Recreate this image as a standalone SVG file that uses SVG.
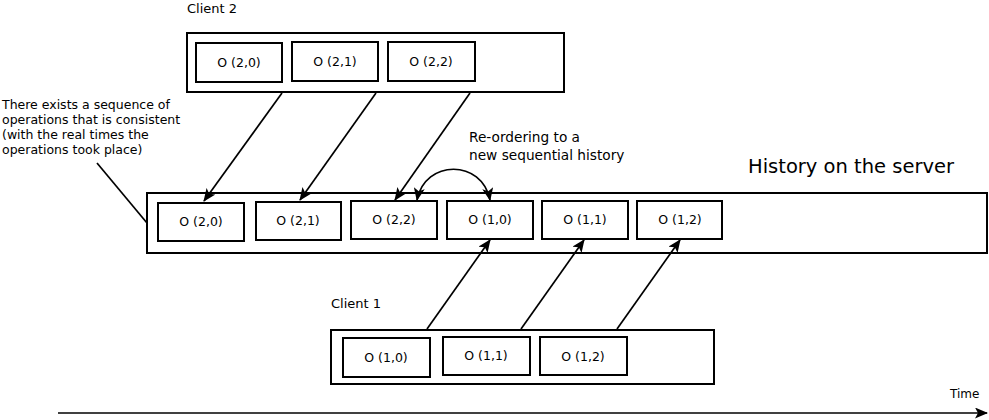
<svg xmlns="http://www.w3.org/2000/svg" width="989" height="420" viewBox="0 0 989 420">
<defs>
<marker id="ah" viewBox="0 0 13 11" refX="12" refY="5.5" markerWidth="13" markerHeight="11" markerUnits="userSpaceOnUse" orient="auto-start-reverse">
<path d="M0,0 L13,5.5 L0,11 L3,5.5 z" fill="#000"/>
</marker>
</defs>
<style>
.outer{fill:#fff;stroke:#000;stroke-width:2}
.op{fill:#fff;stroke:#000;stroke-width:2}
.lbl{font-family:"DejaVu Sans",sans-serif;font-size:12.5px;fill:#000;text-anchor:middle}
.txt{font-family:"DejaVu Sans",sans-serif;fill:#000}
.conn{fill:none;stroke:#000;stroke-width:1.7}
</style>
<rect width="989" height="420" fill="#fff"/>

<g id="client2">
<text class="txt" x="187" y="13" font-size="13">Client 2</text>
<rect class="outer" x="187" y="33" width="377" height="59"/>
<g id="c2-o20"><rect class="op" x="196" y="43" width="86" height="39"/><text class="lbl" x="239" y="67">O (2,0)</text></g>
<g id="c2-o21"><rect class="op" x="292" y="42" width="86" height="39"/><text class="lbl" x="335" y="66">O (2,1)</text></g>
<g id="c2-o22"><rect class="op" x="388" y="42" width="87" height="39"/><text class="lbl" x="431" y="66">O (2,2)</text></g>
</g>

<g id="server">
<text class="txt" x="748" y="173" font-size="19.5">History on the server</text>
<rect class="outer" x="147" y="193" width="840" height="60"/>
<g id="s-o20"><rect class="op" x="158" y="203" width="86" height="38"/><text class="lbl" x="201" y="226">O (2,0)</text></g>
<g id="s-o21"><rect class="op" x="256" y="202" width="85" height="38"/><text class="lbl" x="298" y="225">O (2,1)</text></g>
<g id="s-o22"><rect class="op" x="351" y="201" width="86" height="38"/><text class="lbl" x="394" y="224">O (2,2)</text></g>
<g id="s-o10"><rect class="op" x="447" y="201" width="86" height="38"/><text class="lbl" x="490" y="224">O (1,0)</text></g>
<g id="s-o11"><rect class="op" x="542" y="201" width="86" height="38"/><text class="lbl" x="585" y="224">O (1,1)</text></g>
<g id="s-o12"><rect class="op" x="637" y="201" width="85" height="38"/><text class="lbl" x="680" y="224">O (1,2)</text></g>
</g>

<g id="client1">
<text class="txt" x="331" y="308" font-size="13">Client 1</text>
<rect class="outer" x="331" y="330" width="383" height="54"/>
<g id="c1-o10"><rect class="op" x="343" y="338" width="87" height="39"/><text class="lbl" x="386" y="362">O (1,0)</text></g>
<g id="c1-o11"><rect class="op" x="443" y="337" width="87" height="38"/><text class="lbl" x="486" y="360">O (1,1)</text></g>
<g id="c1-o12"><rect class="op" x="540" y="337" width="87" height="38"/><text class="lbl" x="583" y="361">O (1,2)</text></g>
</g>

<g id="annotation">
<text class="txt" font-size="12.5"><tspan x="2" y="109">There exists a sequence of</tspan><tspan x="2" y="124">operations that is consistent</tspan><tspan x="2" y="139">(with the real times the</tspan><tspan x="2" y="154">operations took place)</tspan></text>
</g>

<g id="reorder-label">
<text class="txt" font-size="13.7"><tspan x="469" y="142">Re-ordering to a</tspan><tspan x="469" y="160">new sequential history</tspan></text>
</g>

<g id="time-label">
<text class="txt" x="950" y="398" font-size="12">Time</text>
</g>

<g id="connectors">
<line class="conn" x1="282" y1="93" x2="204" y2="201" marker-end="url(#ah)"/>
<line class="conn" x1="376" y1="93" x2="300" y2="200" marker-end="url(#ah)"/>
<line class="conn" x1="470" y1="93" x2="395" y2="200" marker-end="url(#ah)"/>
<path class="conn" d="M417,200 C425,159 482,159 490,200" marker-start="url(#ah)" marker-end="url(#ah)"/>
<line class="conn" x1="427" y1="329" x2="490" y2="240" marker-end="url(#ah)"/>
<line class="conn" x1="521" y1="329" x2="584" y2="240" marker-end="url(#ah)"/>
<line class="conn" x1="617" y1="329" x2="680" y2="240" marker-end="url(#ah)"/>
<line class="conn" x1="97" y1="163" x2="147" y2="223"/>
<line class="conn" x1="58" y1="413" x2="987" y2="413" stroke-width="2" marker-end="url(#ah)"/>
</g>
</svg>
